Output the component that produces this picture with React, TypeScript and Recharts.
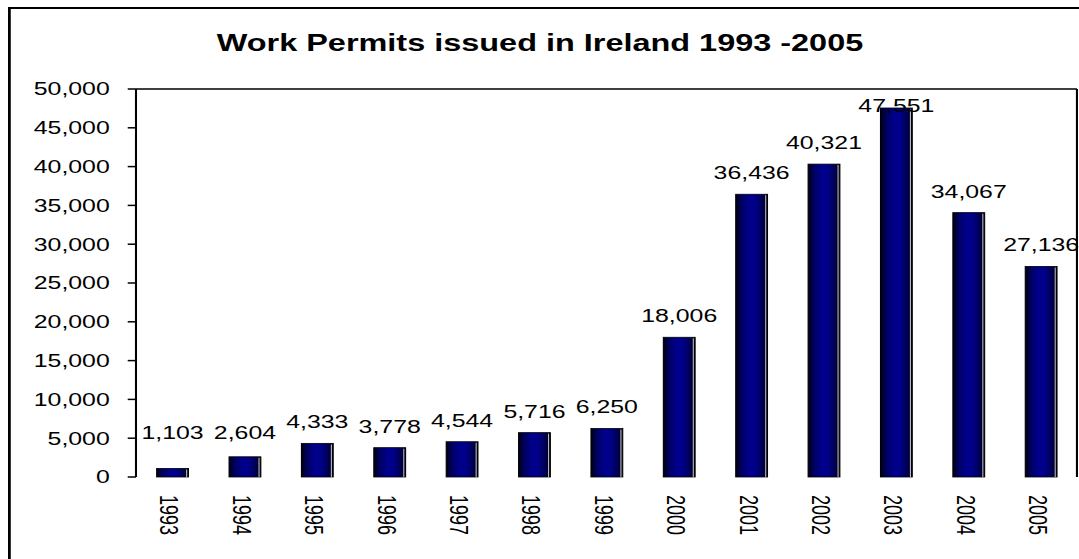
import React from 'react';
import { BarChart, Bar, XAxis, YAxis, ReferenceLine, LabelList } from 'recharts';

const YEARS = ['1993', '1994', '1995', '1996', '1997', '1998', '1999', '2000', '2001', '2002', '2003', '2004', '2005'];
const PERMITS = [1103, 2604, 4333, 3778, 4544, 5716, 6250, 18006, 36436, 40321, 47551, 34067, 27136];
const Y_TICKS = [0, 5000, 10000, 15000, 20000, 25000, 30000, 35000, 40000, 45000, 50000];
const Y_MAX = 50000;
const TITLE = 'Work Permits issued in Ireland 1993 -2005';

const data = YEARS.map((year, i) => ({ year, value: PERMITS[i], idx: i + 0.5 }));
const BOUNDARY_TICKS = [...YEARS.map((_, i) => i), YEARS.length];

const FONT = '"Liberation Sans", Arial, sans-serif';
const SX = 1.38;

const fmt = (v: number) => v.toLocaleString('en-US');

const BarShape = (props: any) => {
  const { x, y, width, height } = props;
  if (!height || height <= 0) return null;
  return (
    <g>
      <rect x={x} y={y} width={width} height={height} fill="url(#barGrad)" stroke="#000" strokeWidth={0.8} />
      <line x1={x + width - 1.3} y1={y + 1} x2={x + width - 1.3} y2={y + height} stroke="#b8b8b8" strokeWidth={0.8} />
    </g>
  );
};

const BarLabel = (props: any) => {
  const { x, y, width, height, value } = props;
  const bottom = y + height;
  const plotTop = bottom - (height * Y_MAX) / value;
  let base = y - 15;
  base = Math.min(base, bottom - 38);
  base = Math.max(base, plotTop + 23);
  return (
    <text x={x + width / 2} y={base} textAnchor="middle" fontSize={18} fontFamily={FONT} fill="#000">
      {fmt(value)}
    </text>
  );
};

const CatTick = (props: any) => {
  const { x, y, payload } = props;
  return (
    <text
      x={x}
      y={y}
      transform={`rotate(90, ${x}, ${y})`}
      dy={8.5}
      textAnchor="start"
      fontSize={18}
      fontFamily={FONT}
      fill="#000"
    >
      {payload.value}
    </text>
  );
};

export default function App() {
  return (
    <div
      style={{
        position: 'fixed',
        left: 0,
        top: 0,
        width: 1079,
        height: 559,
        overflow: 'hidden',
        background: '#fff',
      }}
    >
      <div
        style={{
          position: 'absolute',
          left: 8,
          top: 8,
          width: 776,
          height: 551,
          transform: `scaleX(${SX})`,
          transformOrigin: '0 0',
        }}
      >
        <div
          style={{
            position: 'absolute',
            left: 0,
            top: -1,
            width: 820,
            height: 620,
            borderTop: '2px solid #000',
            borderLeft: '2px solid #000',
            boxSizing: 'border-box',
          }}
        />
        <div
          style={{
            position: 'absolute',
            left: 0,
            top: 23.6,
            width: 771,
            textAlign: 'center',
            fontFamily: FONT,
            fontWeight: 'bold',
            fontSize: 23.5,
            lineHeight: '23.5px',
            color: '#000',
            whiteSpace: 'nowrap',
          }}
        >
          {TITLE}
        </div>
        <div style={{ position: 'absolute', left: 0, top: 0 }}>
          <BarChart
            width={776}
            height={551}
            data={data}
            margin={{ top: 81, right: 1.4, left: 0, bottom: 22 }}
          >
            <defs>
              <linearGradient id="barGrad" x1="0" y1="0" x2="1" y2="0">
                <stop offset="0%" stopColor="#000010" />
                <stop offset="18%" stopColor="#000060" />
                <stop offset="42%" stopColor="#00008c" />
                <stop offset="62%" stopColor="#000088" />
                <stop offset="85%" stopColor="#000050" />
                <stop offset="100%" stopColor="#000010" />
              </linearGradient>
            </defs>
            <XAxis
              xAxisId="grid"
              type="number"
              dataKey="idx"
              domain={[0, YEARS.length]}
              ticks={BOUNDARY_TICKS}
              allowDataOverflow
              tick={false}
              tickSize={7}
              height={0}
              axisLine={{ stroke: '#000', strokeWidth: 1.5 }}
              tickLine={{ stroke: '#000', strokeWidth: 1.5 }}
            />
            <XAxis
              xAxisId="cat"
              dataKey="year"
              type="category"
              height={60}
              axisLine={false}
              tickLine={false}
              tickSize={0}
              tickMargin={18}
              interval={0}
              tick={<CatTick />}
            />
            <YAxis
              width={92.75}
              domain={[0, Y_MAX]}
              ticks={Y_TICKS}
              interval={0}
              tickFormatter={fmt}
              tickSize={6}
              tickMargin={13}
              axisLine={{ stroke: '#000', strokeWidth: 1.5 }}
              tickLine={{ stroke: '#000', strokeWidth: 1.5 }}
              tick={{ fill: '#000', fontSize: 18, fontFamily: FONT }}
            />
            <ReferenceLine xAxisId="grid" y={Y_MAX} stroke="#000" strokeWidth={1.5} ifOverflow="visible" />
            <ReferenceLine xAxisId="grid" x={YEARS.length} stroke="#000" strokeWidth={1.5} ifOverflow="visible" />
            <Bar xAxisId="cat" dataKey="value" barSize={23} shape={<BarShape />} isAnimationActive={false}>
              <LabelList dataKey="value" content={<BarLabel />} />
            </Bar>
          </BarChart>
        </div>
      </div>
    </div>
  );
}
